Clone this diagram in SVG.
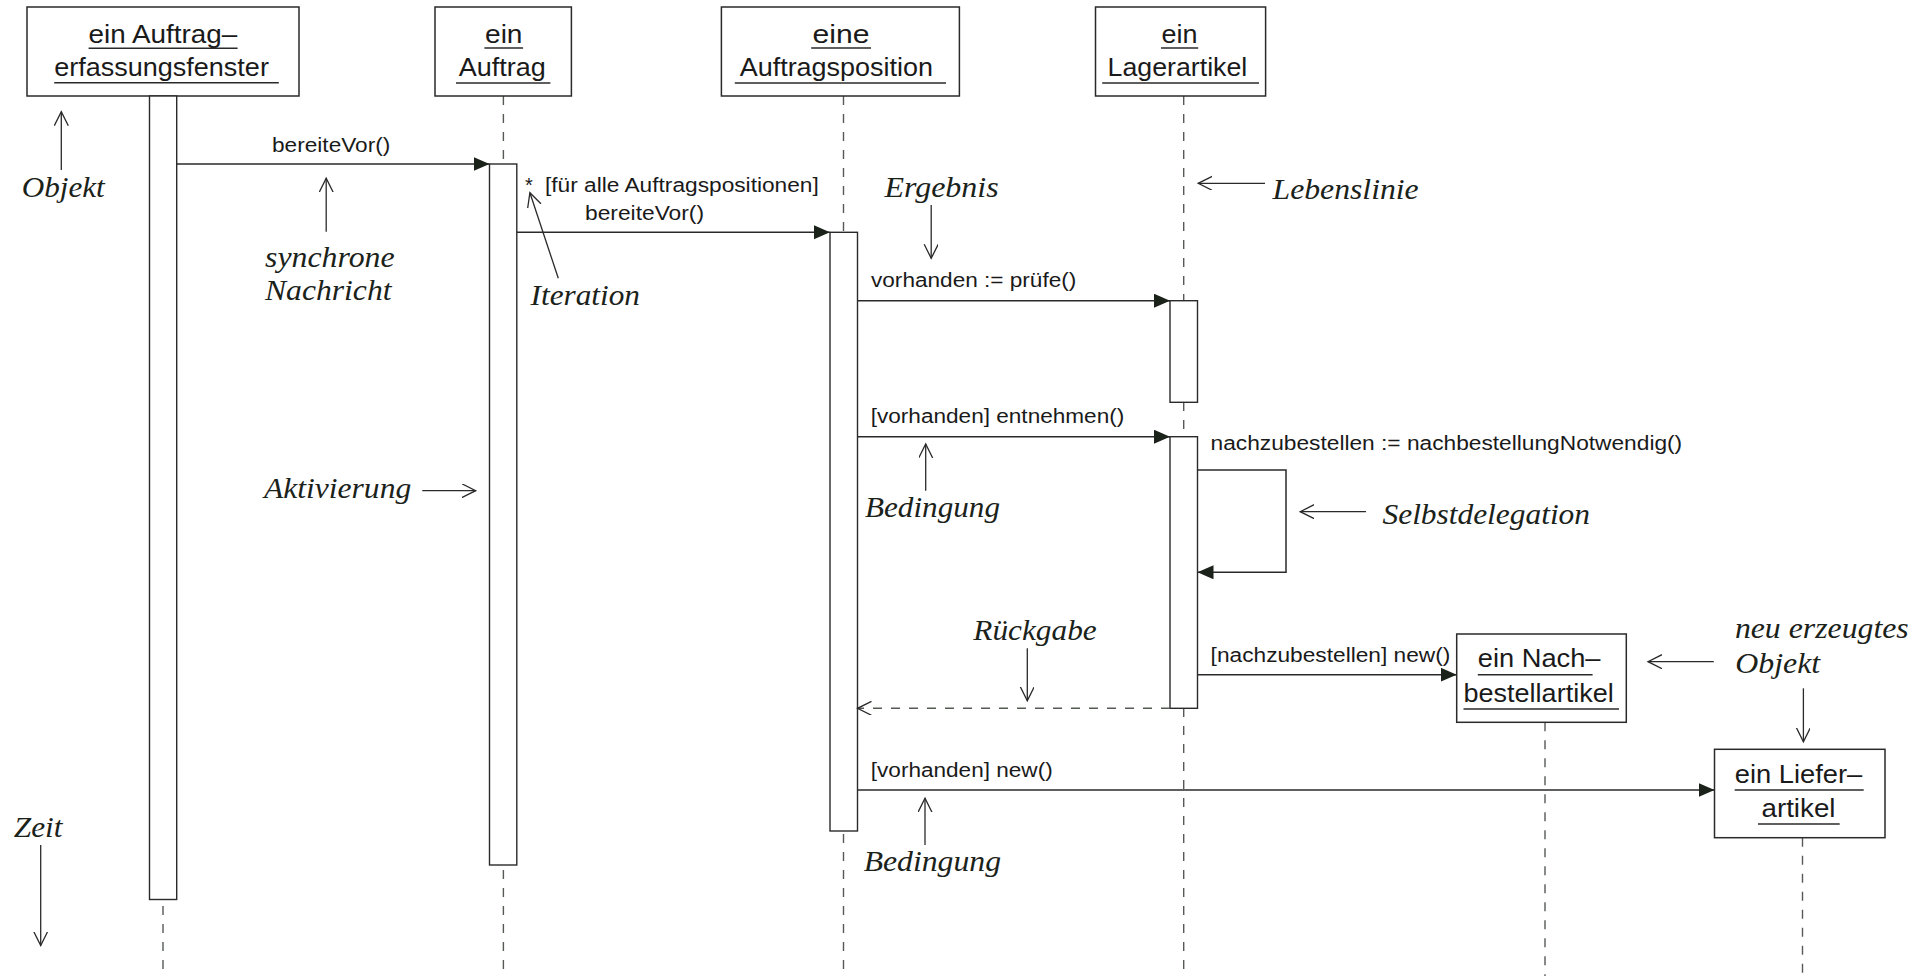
<svg xmlns="http://www.w3.org/2000/svg" width="1926" height="976" viewBox="0 0 1926 976">
  <style>
    .box { fill: #ffffff; stroke: #2a2a2a; stroke-width: 1.5; }
    .act { fill: #ffffff; stroke: #2a2a2a; stroke-width: 1.4; }
    .life { stroke: #555a55; stroke-width: 1.4; stroke-dasharray: 9 9; fill: none; }
    .ul { stroke: #2a2a2a; stroke-width: 1.4; }
    .obj { font-family: "Liberation Sans", Arial, sans-serif; font-size: 26px; fill: #1a1a1a; }
    .msg { font-family: "Liberation Sans", Arial, sans-serif; font-size: 20px; fill: #1a1a1a; }
    .note { font-family: "Liberation Serif", "Times New Roman", serif; font-style: italic; font-size: 30px; fill: #1a221a; }
    .call { stroke: #2a2a2a; stroke-width: 1.5; fill: none; marker-end: url(#filled); }
    .ret { stroke: #555a55; stroke-width: 1.4; stroke-dasharray: 9 9; fill: none; marker-end: url(#open); }
    .pointer { stroke: #2a2a2a; stroke-width: 1.3; fill: none; marker-end: url(#open); }
  </style>
  <defs>
    <marker id="filled" markerUnits="userSpaceOnUse" markerWidth="17" markerHeight="15" refX="16" refY="7" orient="auto">
      <path d="M0,0 L16,7 L0,14 Z" fill="#1a221a"/>
    </marker>
    <marker id="open" markerUnits="userSpaceOnUse" markerWidth="16" markerHeight="16" refX="14" refY="7" orient="auto">
      <path d="M0,0 L14,7 L0,14" fill="none" stroke="#2a2a2a" stroke-width="1.3"/>
    </marker>
  </defs>

  <rect width="1926" height="976" fill="#ffffff"/>

  <!-- object: ein Auftragerfassungsfenster -->
  <g id="auftragerfassungsfenster">
    <line class="life" x1="163" y1="96" x2="163" y2="976"/>
    <rect class="box" x="27" y="7" width="272" height="89"/>
    <text class="obj" x="88.6" y="42.7" textLength="148.7" lengthAdjust="spacingAndGlyphs">ein Auftrag–</text>
    <line class="ul" x1="88.6" y1="48.3" x2="237.6" y2="48.3"/>
    <text class="obj" x="54.2" y="76" textLength="214.7" lengthAdjust="spacingAndGlyphs">erfassungsfenster</text>
    <line class="ul" x1="54.2" y1="82.7" x2="278.8" y2="82.7"/>
    <rect class="act" x="149.5" y="96" width="27.2" height="803.5"/>
  </g>

  <!-- object: ein Auftrag -->
  <g id="auftrag">
    <line class="life" x1="503.4" y1="96" x2="503.4" y2="976"/>
    <rect class="box" x="435" y="7" width="136.4" height="89"/>
    <text class="obj" x="485" y="42.7" textLength="37.5" lengthAdjust="spacingAndGlyphs">ein</text>
    <line class="ul" x1="484.4" y1="48" x2="523.1" y2="48"/>
    <text class="obj" x="458.7" y="76" textLength="87" lengthAdjust="spacingAndGlyphs">Auftrag</text>
    <line class="ul" x1="456" y1="83" x2="550.4" y2="83"/>
    <rect class="act" x="489.5" y="164" width="27.3" height="701"/>
  </g>

  <!-- object: eine Auftragsposition -->
  <g id="auftragsposition">
    <line class="life" x1="843.5" y1="96" x2="843.5" y2="976"/>
    <rect class="box" x="721.4" y="7" width="238" height="89"/>
    <text class="obj" x="812.5" y="42.7" textLength="57" lengthAdjust="spacingAndGlyphs">eine</text>
    <line class="ul" x1="811.2" y1="48" x2="871" y2="48"/>
    <text class="obj" x="739.7" y="76" textLength="193.3" lengthAdjust="spacingAndGlyphs">Auftragsposition</text>
    <line class="ul" x1="734.8" y1="83" x2="946" y2="83"/>
    <rect class="act" x="830" y="232.3" width="27.5" height="598.7"/>
  </g>

  <!-- object: ein Lagerartikel -->
  <g id="lagerartikel">
    <line class="life" x1="1183.7" y1="96" x2="1183.7" y2="976"/>
    <rect class="box" x="1095.5" y="7" width="170.1" height="89"/>
    <text class="obj" x="1161.5" y="42.7" textLength="36" lengthAdjust="spacingAndGlyphs">ein</text>
    <line class="ul" x1="1161" y1="48" x2="1198.2" y2="48"/>
    <text class="obj" x="1107.6" y="76" textLength="139.7" lengthAdjust="spacingAndGlyphs">Lagerartikel</text>
    <line class="ul" x1="1102.2" y1="83" x2="1259" y2="83"/>
    <rect class="act" x="1170" y="300.7" width="27.5" height="101.6"/>
    <rect class="act" x="1170" y="436.7" width="27.5" height="271.6"/>
  </g>

  <!-- object: ein Nachbestellartikel (created during the sequence) -->
  <g id="nachbestellartikel">
    <line class="life" x1="1545" y1="722.3" x2="1545" y2="976"/>
    <rect class="box" x="1456.7" y="634" width="169.6" height="88.3"/>
    <text class="obj" x="1477.8" y="667.3" textLength="122.7" lengthAdjust="spacingAndGlyphs">ein Nach–</text>
    <line class="ul" x1="1477.8" y1="674.7" x2="1592.6" y2="674.7"/>
    <text class="obj" x="1463.5" y="701.7" textLength="150.2" lengthAdjust="spacingAndGlyphs">bestellartikel</text>
    <line class="ul" x1="1463.5" y1="709" x2="1619" y2="709"/>
  </g>

  <!-- object: ein Lieferartikel (created during the sequence) -->
  <g id="lieferartikel">
    <line class="life" x1="1802.5" y1="837.7" x2="1802.5" y2="976"/>
    <rect class="box" x="1714.5" y="749.3" width="170.5" height="88.4"/>
    <text class="obj" x="1734.7" y="783.3" textLength="127.6" lengthAdjust="spacingAndGlyphs">ein Liefer–</text>
    <line class="ul" x1="1734.7" y1="790" x2="1863.7" y2="790"/>
    <text class="obj" x="1761.5" y="816.7" textLength="74" lengthAdjust="spacingAndGlyphs">artikel</text>
    <line class="ul" x1="1758" y1="824" x2="1839.7" y2="824"/>
  </g>

  <!-- messages between the objects -->
  <g id="connectors">
    <line class="call" x1="176.7" y1="164" x2="489.5" y2="164"/>
    <text class="msg" x="272" y="151.7" textLength="118.3" lengthAdjust="spacingAndGlyphs">bereiteVor()</text>

    <line class="call" x1="516.8" y1="232.3" x2="829.9" y2="232.3"/>
    <text class="msg" x="525" y="191.7">*</text>
    <text class="msg" x="545" y="191.7" textLength="273.8" lengthAdjust="spacingAndGlyphs">[für alle Auftragspositionen]</text>
    <text class="msg" x="585" y="220" textLength="119" lengthAdjust="spacingAndGlyphs">bereiteVor()</text>

    <line class="call" x1="857.5" y1="300.7" x2="1170" y2="300.7"/>
    <text class="msg" x="871" y="286.7" textLength="205.3" lengthAdjust="spacingAndGlyphs">vorhanden := prüfe()</text>

    <line class="call" x1="857.5" y1="436.7" x2="1170" y2="436.7"/>
    <text class="msg" x="870.7" y="423.3" textLength="253.6" lengthAdjust="spacingAndGlyphs">[vorhanden] entnehmen()</text>

    <path class="call" d="M1197.5,470 H1286 V572.3 H1197.5"/>
    <text class="msg" x="1210.6" y="450" textLength="471.6" lengthAdjust="spacingAndGlyphs">nachzubestellen := nachbestellungNotwendig()</text>

    <line class="call" x1="1197.5" y1="674.7" x2="1456.7" y2="674.7"/>
    <text class="msg" x="1210.6" y="661.7" textLength="239.8" lengthAdjust="spacingAndGlyphs">[nachzubestellen] new()</text>

    <line class="ret" x1="1170" y1="708.3" x2="857.5" y2="708.3"/>

    <line class="call" x1="857.5" y1="790" x2="1714.5" y2="790"/>
    <text class="msg" x="870.8" y="776.7" textLength="181.9" lengthAdjust="spacingAndGlyphs">[vorhanden] new()</text>
  </g>

  <!-- explanatory labels with pointer arrows -->
  <g id="annotations">
    <line class="pointer" x1="61.3" y1="170" x2="61.3" y2="111.7"/>
    <text class="note" x="21.7" y="196.7" textLength="83" lengthAdjust="spacingAndGlyphs">Objekt</text>

    <line class="pointer" x1="326.2" y1="231.7" x2="326.2" y2="178.3"/>
    <text class="note" x="265" y="266.7" textLength="129.6" lengthAdjust="spacingAndGlyphs">synchrone</text>
    <text class="note" x="265" y="300" textLength="126.5" lengthAdjust="spacingAndGlyphs">Nachricht</text>

    <line class="pointer" x1="558.3" y1="278.3" x2="529.9" y2="192.7"/>
    <text class="note" x="530.6" y="305" textLength="109.4" lengthAdjust="spacingAndGlyphs">Iteration</text>

    <line class="pointer" x1="422.3" y1="490.7" x2="475.7" y2="490.7"/>
    <text class="note" x="264" y="497.8" textLength="147.2" lengthAdjust="spacingAndGlyphs">Aktivierung</text>

    <line class="pointer" x1="40.7" y1="845" x2="40.7" y2="945.5"/>
    <text class="note" x="13.8" y="836.7" textLength="48.7" lengthAdjust="spacingAndGlyphs">Zeit</text>

    <line class="pointer" x1="931.2" y1="205" x2="931.2" y2="258.3"/>
    <text class="note" x="884.4" y="196.7" textLength="114.3" lengthAdjust="spacingAndGlyphs">Ergebnis</text>

    <line class="pointer" x1="1265" y1="183.3" x2="1198.2" y2="183.3"/>
    <text class="note" x="1272.5" y="198.5" textLength="146.2" lengthAdjust="spacingAndGlyphs">Lebenslinie</text>

    <line class="pointer" x1="925.7" y1="490.7" x2="925.7" y2="444"/>
    <text class="note" x="865" y="516.7" textLength="135" lengthAdjust="spacingAndGlyphs">Bedingung</text>

    <line class="pointer" x1="1366" y1="511.7" x2="1300.2" y2="511.7"/>
    <text class="note" x="1382.5" y="524.3" textLength="207.5" lengthAdjust="spacingAndGlyphs">Selbstdelegation</text>

    <line class="pointer" x1="1027.3" y1="648.3" x2="1027.3" y2="700.7"/>
    <text class="note" x="973.3" y="640" textLength="123.4" lengthAdjust="spacingAndGlyphs">Rückgabe</text>

    <line class="pointer" x1="1713.8" y1="661.7" x2="1648" y2="661.7"/>
    <text class="note" x="1734.9" y="638.3" textLength="173.8" lengthAdjust="spacingAndGlyphs">neu erzeugtes</text>
    <text class="note" x="1735.2" y="673.3" textLength="85" lengthAdjust="spacingAndGlyphs">Objekt</text>
    <line class="pointer" x1="1803.4" y1="688.3" x2="1803.4" y2="741.7"/>

    <line class="pointer" x1="925" y1="845" x2="925" y2="798.3"/>
    <text class="note" x="863.7" y="870.7" textLength="137.3" lengthAdjust="spacingAndGlyphs">Bedingung</text>
  </g>
</svg>
